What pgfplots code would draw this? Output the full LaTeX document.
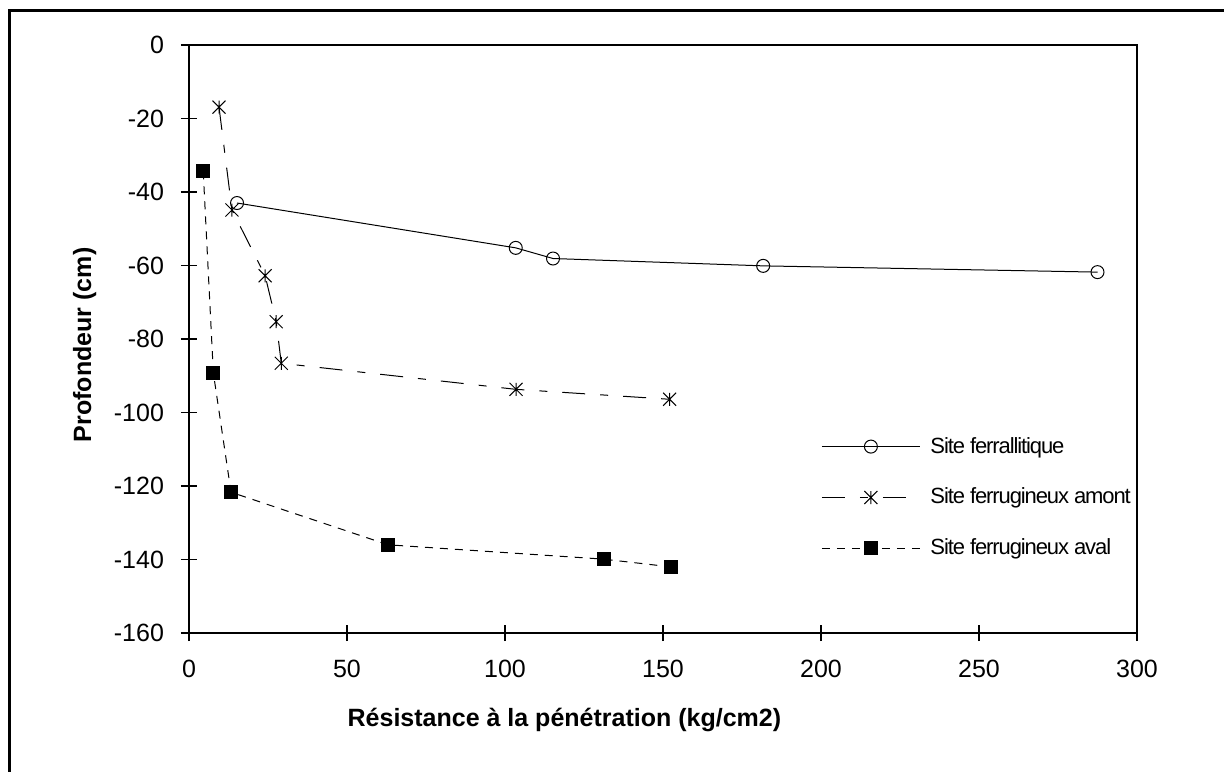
\documentclass[border=0pt]{standalone}
\usepackage{pgfplots}
\pgfplotsset{compat=1.18}
\usepackage{fontspec}
\setmainfont{Liberation Sans}

% star marker of the reference: an x with a vertical bar
\pgfdeclareplotmark{xast}{%
  \pgfpathmoveto{\pgfqpoint{-\pgfplotmarksize}{-\pgfplotmarksize}}%
  \pgfpathlineto{\pgfqpoint{\pgfplotmarksize}{\pgfplotmarksize}}%
  \pgfpathmoveto{\pgfqpoint{-\pgfplotmarksize}{\pgfplotmarksize}}%
  \pgfpathlineto{\pgfqpoint{\pgfplotmarksize}{-\pgfplotmarksize}}%
  \pgfpathmoveto{\pgfqpoint{0pt}{-\pgfplotmarksize}}%
  \pgfpathlineto{\pgfqpoint{0pt}{\pgfplotmarksize}}%
  \pgfusepathqstroke}

% 1 px of the reference = 0.5pt
\begin{document}
\begin{tikzpicture}
\path[use as bounding box] (-94.5pt,-69pt) rectangle (517.5pt,316.5pt);
\begin{axis}[
    at={(0pt,0pt)}, anchor=south west,
    width=474pt, height=294pt, scale only axis,
    xmin=0, xmax=300, ymin=-160, ymax=0,
    xtick={0,50,...,300}, ytick={-160,-140,...,0},
    tick align=center, major tick length=8pt,
    xtick pos=bottom, ytick pos=left,
    axis line style={line width=0.6pt},
    every tick/.style={black, line width=0.6pt},
    /pgf/number format/assume math mode=true,
    ticklabel style={font=\fontsize{12.5}{15}\selectfont},
    xticklabel style={yshift=-6pt},
    yticklabel style={xshift=-5pt},
    xlabel={Résistance à la pénétration (kg/cm2)},
    ylabel={Profondeur (cm)},
    label style={font=\fontsize{12.5}{15}\selectfont\bfseries},
    xlabel style={at={(axis description cs:0.396,-0.148)}, anchor=center},
    ylabel style={at={(axis description cs:-0.11,0.49)}, anchor=center},
    legend image code/.code={
        \draw[mark repeat=2, mark phase=2, #1]
            plot coordinates {(0pt,0pt) (24.5pt,0pt) (49pt,0pt)};},
    legend style={draw=none, fill=none, inner sep=0pt,
        at={(axis cs:200,-105.5)}, anchor=north west,
        font=\fontsize{11}{13}\selectfont\addfontfeatures{LetterSpace=-5},
        row sep=12pt,
        /tikz/every odd column/.append style={column sep=3pt}},
    legend cell align=left,
]
\addplot[black, line width=0.5pt, mark=o, mark size=3.25pt,
    mark options={solid, fill=white}] coordinates {
    (15.2,-43) (103.4,-55.2) (115.2,-58.1) (181.7,-60.1) (287.5,-61.8)
};
\addlegendentry{Site ferrallitique}
\addplot[black, line width=0.5pt,
    dash pattern=on 11.5pt off 7.5pt on 4pt off 7.5pt,
    mark=xast, mark size=3.25pt, mark options={solid}] coordinates {
    (9.5,-16.9) (13.6,-44.9) (24.1,-62.8) (27.6,-75.3) (29.2,-86.6)
    (103.5,-93.7) (152.1,-96.4)
};
\addlegendentry{Site ferrugineux amont}
\addplot[black, line width=0.5pt, dash pattern=on 4pt off 3.5pt,
    mark=square*, mark size=3.25pt, mark options={solid}] coordinates {
    (4.5,-34.4) (7.7,-89.2) (13.3,-121.7) (63,-136) (131.2,-139.9) (152.4,-142)
};
\addlegendentry{Site ferrugineux aval}
\end{axis}
\draw[line width=1.5pt] (530pt,311.15pt) -- (-89.5pt,311.15pt) -- (-89.5pt,-80pt);
\end{tikzpicture}
\end{document}
